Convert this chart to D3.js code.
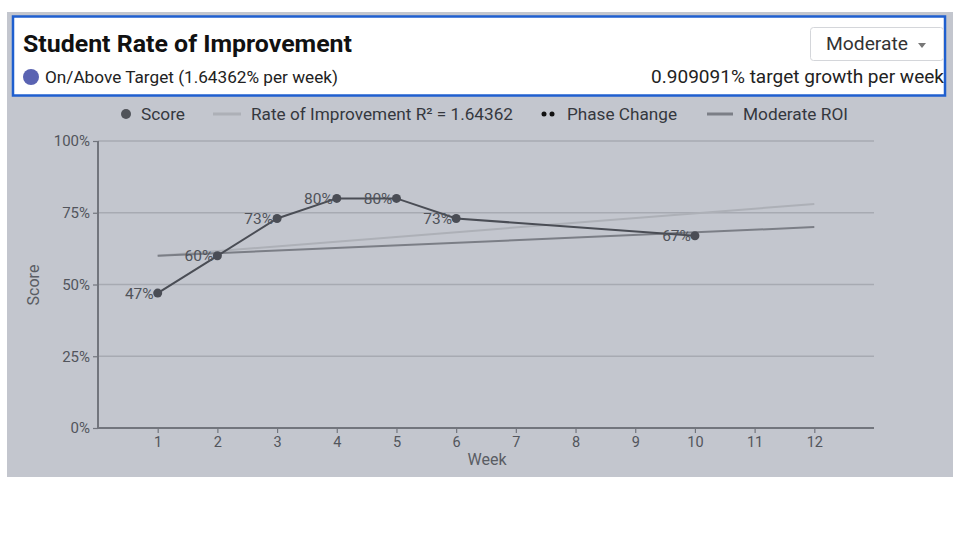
<!DOCTYPE html>
<html><head><meta charset="utf-8">
<script src="https://cdn.jsdelivr.net/npm/d3@7"></script>
<style>
html,body{margin:0;padding:0;background:#fff;}
svg{display:block;font-family:Roboto,"Noto Sans",sans-serif;}
</style></head>
<body><svg id="chart" width="960" height="540"></svg>
<script>
const weeks = [1, 2, 3, 4, 5, 6, 10];
const scores = [47, 60, 73, 80, 80, 73, 67];
const trendWeeks = [1, 12];
const trendValues = [60, 78.08];
const roiWeeks = [1, 12];
const roiValues = [60, 70];
const xTicks = [1,2,3,4,5,6,7,8,9,10,11,12];
const yTicks = [0, 25, 50, 75, 100];
const legendLabels = ["Score", "Rate of Improvement R\u00b2 = 1.64362", "Phase Change", "Moderate ROI"];
const title = "Student Rate of Improvement";
const statusText = "On/Above Target (1.64362% per week)";
const targetText = "0.909091% target growth per week";
const dropdownText = "Moderate";

const svg = d3.select("#chart");
// outer panel
svg.append("rect").attr("x",7).attr("y",12).attr("width",946).attr("height",465).attr("fill","#c3c6ce");
// header
svg.append("rect").attr("x",13).attr("y",16.5).attr("width",932).attr("height",79).attr("fill","#fff")
  .attr("stroke","#1f5fcf").attr("stroke-width",2.5);
svg.append("text").attr("x",23).attr("y",52).attr("font-size",24.5).attr("font-weight",700).attr("fill","#111")
  .attr("textLength",329).attr("lengthAdjust","spacingAndGlyphs").text(title);
svg.append("circle").attr("cx",31).attr("cy",77).attr("r",8).attr("fill","#5a63b2");
svg.append("text").attr("x",45).attr("y",82.5).attr("font-size",16.5).attr("fill","#222")
  .attr("textLength",293).attr("lengthAdjust","spacingAndGlyphs").text(statusText);
svg.append("text").attr("x",944).attr("y",83).attr("text-anchor","end").attr("font-size",18.5).attr("fill","#222")
  .attr("textLength",293).attr("lengthAdjust","spacingAndGlyphs").text(targetText);
svg.append("rect").attr("x",810.5).attr("y",27.5).attr("width",133).attr("height",33).attr("rx",3)
  .attr("fill","#fff").attr("stroke","#d4d6da");
svg.append("text").attr("x",826).attr("y",50).attr("font-size",18.5).attr("fill","#333")
  .attr("textLength",82).attr("lengthAdjust","spacingAndGlyphs").text(dropdownText);
svg.append("path").attr("d","M918,43 L926,43 L922,48 Z").attr("fill","#777");

// scales
const x = d3.scaleLinear().domain([0,13]).range([98,874]);
const y = d3.scaleLinear().domain([0,100]).range([428,141]);

// grid
const g = svg.append("g");
g.selectAll("line.grid").data(yTicks.filter(d=>d>0)).join("line")
  .attr("x1",98).attr("x2",874).attr("y1",d=>y(d)).attr("y2",d=>y(d))
  .attr("stroke","#a7aab2").attr("stroke-width",1.5);

// axes
const yAxis = svg.append("g").attr("transform","translate(98,0)")
  .call(d3.axisLeft(y).tickValues(yTicks).tickFormat(d=>d+"%").tickSize(5).tickPadding(3));
const xAxis = svg.append("g").attr("transform","translate(0,428)")
  .call(d3.axisBottom(x).tickValues(xTicks).tickFormat(d3.format("d")).tickSize(5).tickPadding(4));
[yAxis,xAxis].forEach(a=>{
  a.select(".domain").attr("stroke","#72757d").attr("stroke-width",2);
  a.selectAll(".tick line").attr("stroke","#72757d").attr("stroke-width",1.2);
  a.selectAll(".tick text").attr("fill","#52555c").attr("font-size",14.5).attr("font-family","Roboto,sans-serif");
});
yAxis.selectAll(".tick text").attr("font-size",15);
xAxis.select(".domain").attr("d","M98,0H874");
yAxis.select(".domain").attr("d","M0,141V428");

svg.append("text").attr("transform","translate(39,285) rotate(-90)").attr("text-anchor","middle")
  .attr("font-size",16).attr("fill","#5a5d64").text("Score");
svg.append("text").attr("x",487).attr("y",465).attr("text-anchor","middle")
  .attr("font-size",16).attr("fill","#5a5d64").text("Week");

// trend lines
const line = d3.line().x(d=>x(d[0])).y(d=>y(d[1]));
svg.append("path").datum(d3.zip(trendWeeks,trendValues)).attr("d",line)
  .attr("fill","none").attr("stroke","#adb0b7").attr("stroke-width",2);
svg.append("path").datum(d3.zip(roiWeeks,roiValues)).attr("d",line)
  .attr("fill","none").attr("stroke","#7b7e86").attr("stroke-width",2);

// score line
const pts = d3.zip(weeks,scores);
svg.append("path").datum(pts).attr("d",line).attr("fill","none").attr("stroke","#4a4d55").attr("stroke-width",2);
svg.selectAll("text.lbl").data(pts).join("text").attr("class","lbl")
  .attr("x",d=>x(d[0])-4).attr("y",d=>y(d[1])+5.5).attr("text-anchor","end")
  .attr("font-size",15.5).attr("fill","#50535a").text(d=>d[1]+"%");
svg.selectAll("circle.pt").data(pts).join("circle").attr("class","pt")
  .attr("cx",d=>x(d[0])).attr("cy",d=>y(d[1])).attr("r",4.5).attr("fill","#4a4d55");

// legend
const lg = svg.append("g").attr("font-size",17).attr("fill","#35383e");
lg.append("circle").attr("cx",126).attr("cy",114).attr("r",5).attr("fill","#505359");
lg.append("text").attr("x",141).attr("y",120).attr("textLength",44).attr("lengthAdjust","spacingAndGlyphs").text(legendLabels[0]);
lg.append("line").attr("x1",213).attr("x2",241).attr("y1",114).attr("y2",114).attr("stroke","#adb0b7").attr("stroke-width",3);
lg.append("text").attr("x",251).attr("y",120).attr("textLength",262).attr("lengthAdjust","spacingAndGlyphs").text(legendLabels[1]);
lg.append("circle").attr("cx",544).attr("cy",114).attr("r",2.5).attr("fill","#111");
lg.append("circle").attr("cx",552).attr("cy",114).attr("r",2.5).attr("fill","#111");
lg.append("text").attr("x",567).attr("y",120).attr("textLength",110).attr("lengthAdjust","spacingAndGlyphs").text(legendLabels[2]);
lg.append("line").attr("x1",707).attr("x2",733).attr("y1",114).attr("y2",114).attr("stroke","#7b7e86").attr("stroke-width",3);
lg.append("text").attr("x",743).attr("y",120).attr("textLength",105).attr("lengthAdjust","spacingAndGlyphs").text(legendLabels[3]);
</script></body></html>
